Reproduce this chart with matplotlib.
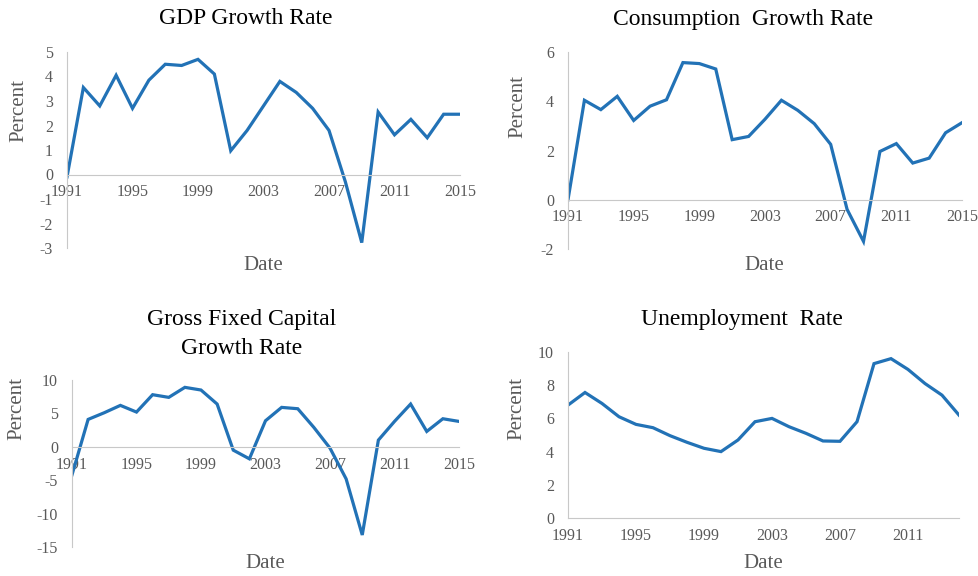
import matplotlib
matplotlib.use("Agg")
from matplotlib import pyplot as plt

plt.rcParams['axes.unicode_minus'] = False

years = list(range(1991, 2016))
years_unemp = list(range(1991, 2015))

gdp = [-0.1, 3.55, 2.8, 4.05, 2.7, 3.85, 4.5, 4.45, 4.7, 4.1, 0.97, 1.8, 2.8,
       3.8, 3.35, 2.7, 1.8, -0.3, -2.78, 2.55, 1.62, 2.25, 1.5, 2.46, 2.46]
consumption = [0.0, 4.04, 3.66, 4.2, 3.22, 3.8, 4.06, 5.57, 5.53, 5.31, 2.44, 2.57, 3.27,
               4.04, 3.63, 3.09, 2.25, -0.39, -1.69, 1.96, 2.28, 1.49, 1.69, 2.72, 3.13]
gfc = [-4.2, 4.1, 5.1, 6.2, 5.2, 7.8, 7.4, 8.9, 8.5, 6.4, -0.5, -1.8, 3.9,
       5.9, 5.7, 2.9, -0.2, -4.8, -13.2, 1.0, 3.8, 6.4, 2.3, 4.2, 3.8]
unemployment = [6.8, 7.56, 6.9, 6.1, 5.64, 5.44, 4.96, 4.56, 4.2, 4.0, 4.7, 5.8,
                6.0, 5.5, 5.1, 4.64, 4.62, 5.8, 9.3, 9.6, 8.95, 8.1, 7.4, 6.2]

W, H = 979, 576
fig = plt.figure(figsize=(W / 100, H / 100), dpi=100)

serif = 'Liberation Serif'
line_col = '#2272b6'
grey = '#595959'
spine_col = '#c8c8c8'


def box(left, top, right, bottom):
    return [left / W, 1 - bottom / H, (right - left) / W, (bottom - top) / H]


def txt(x, y, s, **kw):
    fig.text(x / W, 1 - y / H, s, ha='center', va='center', family=serif, **kw)


def panel(rect, x, y, ylim, yticks, xticks, xlim):
    ax = fig.add_axes(rect)
    ax.plot(x, y, color=line_col, lw=2.3, solid_joinstyle='miter')
    ax.set_xlim(xlim)
    ax.set_ylim(ylim)
    ax.set_yticks(yticks)
    ax.set_xticks(xticks)
    for s in ['top', 'right']:
        ax.spines[s].set_visible(False)
    # x axis sits on the zero line
    ax.spines['bottom'].set_position(('data', 0))
    ax.spines['bottom'].set_color(spine_col)
    ax.spines['left'].set_color(spine_col)
    ax.tick_params(axis='x', length=0, pad=7, labelsize=11.5, labelcolor=grey)
    ax.tick_params(axis='y', length=0, pad=10, labelsize=11.5, labelcolor=grey)
    for lab in ax.get_xticklabels() + ax.get_yticklabels():
        lab.set_family(serif)
    ax.patch.set_alpha(0)
    return ax


ticks4 = [1991, 1995, 1999, 2003, 2007, 2011, 2015]

panel(box(67, 52, 460, 248), years, gdp, (-3, 5), range(-3, 6), ticks4, (1991, 2015))
panel(box(568, 52, 962, 249), years, consumption, (-2, 6), [-2, 0, 2, 4, 6], ticks4, (1991, 2015))
panel(box(72, 380, 459, 547), years, gfc, (-15, 10), [-15, -10, -5, 0, 5, 10], ticks4, (1991, 2015))
panel(box(568, 352, 959, 518), years_unemp, unemployment, (0, 10), [0, 2, 4, 6, 8, 10],
      ticks4[:-1], (1991, 2014))

# titles
txt(246, 18, 'GDP Growth Rate', fontsize=17)
txt(743, 20, 'Consumption  Growth Rate', fontsize=17)
txt(242, 320, 'Gross Fixed Capital', fontsize=17)
txt(242, 348, 'Growth Rate', fontsize=17)
txt(742, 320, 'Unemployment  Rate', fontsize=17)

# axis labels
for x, y in [(19, 110), (518, 107), (17, 408), (517, 408)]:
    txt(x, y, 'Percent', fontsize=15, color=grey, rotation=90)
for x, y in [(263, 265), (764, 265), (265, 564), (763, 564)]:
    txt(x, y, 'Date', fontsize=15, color=grey)

plt.savefig('out.png', dpi=100)
